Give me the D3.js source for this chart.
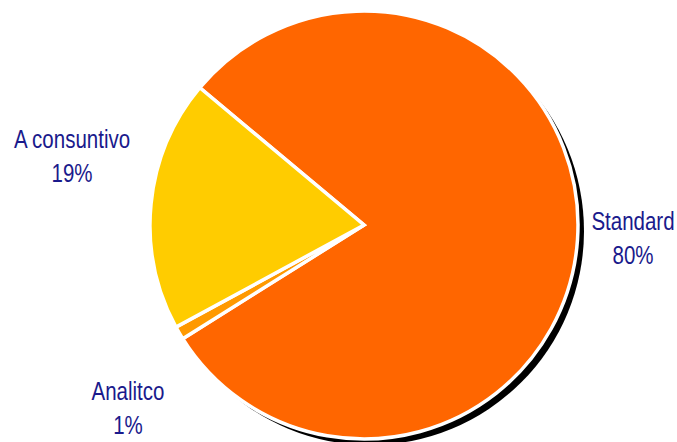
<!DOCTYPE html>
<html><head><meta charset="utf-8">
<script src="https://cdn.jsdelivr.net/npm/d3@7"></script>
<style>html,body{margin:0;padding:0;background:#fff;}svg{display:block;}</style>
</head><body>
<svg id="c" width="677" height="442"></svg>
<script>
const categories = ["Standard", "Analitco", "A consuntivo"];
const values = [80, 1, 19];
const pctLabels = ["80%", "1%", "19%"];
const colors = ["#FF6600", "#FF9900", "#FFCC00"];

const W = 677, H = 442;
const cx = 364, cy = 225, R = 214;
const svg = d3.select("#c");

const pie = d3.pie().sort(null).value(d => d)
  .startAngle(-50.1 * Math.PI / 180)
  .endAngle((360 - 50.1) * Math.PI / 180);
const arcs = pie(values);
const arc = d3.arc().innerRadius(0).outerRadius(R);

// shadow
svg.append("circle").attr("cx", cx + 6).attr("cy", cy + 6).attr("r", R).attr("fill", "#000");

const g = svg.append("g").attr("transform", `translate(${cx},${cy})`);
g.selectAll("path").data(arcs).join("path")
  .attr("d", arc)
  .attr("fill", (d, i) => colors[i])
  .attr("stroke", "#fff")
  .attr("stroke-width", 3.5)
  .attr("stroke-linejoin", "miter");

const labelPos = [[633, 230], [128, 400], [72, 148]];
const font = "'Liberation Sans', Arial, sans-serif";
categories.forEach((c, i) => {
  const t = svg.append("text")
    .attr("transform", `translate(${labelPos[i][0]},${labelPos[i][1]}) scale(0.82,1)`)
    .attr("text-anchor", "middle")
    .attr("font-family", font)
    .attr("font-size", 25)
    .attr("fill", "#1A1A8C");
  t.append("tspan").attr("x", 0).text(c);
  t.append("tspan").attr("x", 0).attr("dy", 34).text(pctLabels[i]);
});
</script>
</body></html>
